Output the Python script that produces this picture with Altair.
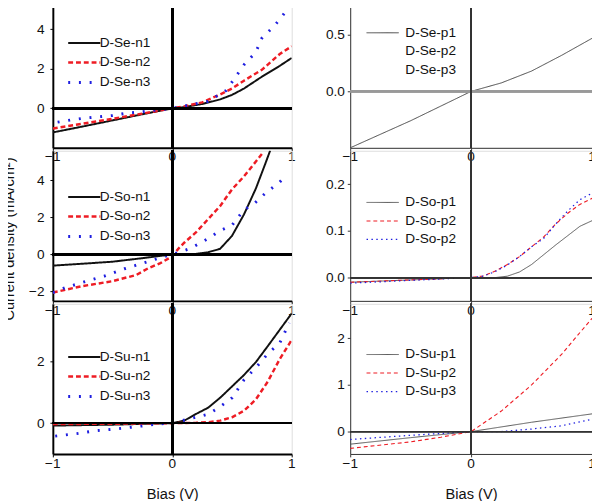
import altair as alt
import pandas as pd

FONT = "Liberation Sans"

# ---------------- data ----------------
# D-Se (n-type)
se_n1_x = [-1, -0.75, -0.5, -0.25, 0, 0.1, 0.25, 0.4, 0.5, 0.6, 0.75, 0.9, 1.0]
se_n1_y = [-1.22, -0.92, -0.61, -0.3, 0, 0.06, 0.22, 0.45, 0.68, 1.0, 1.6, 2.15, 2.55]
se_n2_x = [-1, -0.75, -0.5, -0.25, 0, 0.1, 0.25, 0.4, 0.5, 0.6, 0.75, 0.9, 1.0]
se_n2_y = [-1.02, -0.78, -0.53, -0.27, 0, 0.1, 0.3, 0.7, 1.0, 1.4, 1.95, 2.75, 3.14]
se_n3_x = [-0.96, -0.88, -0.74, -0.5, -0.35, -0.28, -0.18, 0, 0.3, 0.45, 0.52, 0.6, 0.7, 0.75, 0.85, 0.9, 0.95]
se_n3_y = [-0.7, -0.62, -0.5, -0.36, -0.22, -0.2, -0.12, 0, 0.35, 0.9, 1.5, 2.2, 2.85, 3.55, 4.15, 4.5, 4.9]

# D-So (n-type)
so_n1_x = [-1, -0.75, -0.5, -0.25, 0, 0.2, 0.3, 0.4, 0.5, 0.6, 0.7, 0.78, 0.82]
so_n1_y = [-0.6, -0.5, -0.39, -0.2, 0, 0.03, 0.12, 0.3, 1.0, 2.15, 3.55, 4.9, 5.6]
so_n2_x = [-1, -0.75, -0.5, -0.3, -0.2, -0.1, 0, 0.05, 0.1, 0.2, 0.3, 0.4, 0.5, 0.6, 0.7, 0.75]
so_n2_y = [-2.05, -1.7, -1.44, -1.1, -0.74, -0.47, -0.1, 0.3, 0.63, 1.2, 1.9, 2.6, 3.5, 4.2, 5.0, 5.4]
so_n3_x = [-1, -0.9, -0.75, -0.57, -0.4, -0.2, -0.1, 0, 0.15, 0.3, 0.4, 0.5, 0.6, 0.68, 0.78, 0.9, 0.95]
so_n3_y = [-2.05, -1.8, -1.5, -1.17, -0.77, -0.38, -0.17, 0, 0.32, 0.85, 1.28, 1.57, 2.4, 2.7, 3.3, 3.9, 4.25]

# D-Su (n-type)
su_n1_x = [-1, -0.5, 0, 0.1, 0.2, 0.3, 0.4, 0.5, 0.6, 0.7, 0.8, 0.9, 1.0]
su_n1_y = [-0.08, -0.05, 0, 0.08, 0.3, 0.5, 0.82, 1.19, 1.56, 1.98, 2.5, 3.03, 3.56]
su_n2_x = [-1, -0.5, 0, 0.2, 0.3, 0.4, 0.5, 0.6, 0.7, 0.8, 0.9, 1.0]
su_n2_y = [-0.03, -0.02, 0, 0.01, 0.03, 0.08, 0.19, 0.4, 0.77, 1.35, 2.08, 2.7]
su_n3_x = [-0.98, -0.8, -0.65, -0.45, -0.27, -0.1, 0, 0.3, 0.4, 0.5, 0.6, 0.7, 0.8, 0.9, 0.98]
su_n3_y = [-0.42, -0.34, -0.25, -0.18, -0.1, -0.02, 0, 0.29, 0.53, 0.82, 1.4, 1.8, 2.25, 2.6, 3.25]

# D-Se (p-type)
se_p1_x = [-1, -0.75, -0.5, -0.25, 0, 0.25, 0.5, 0.75, 1.0]
se_p1_y = [-0.5, -0.38, -0.26, -0.13, 0, 0.075, 0.18, 0.32, 0.47]

# D-So (p-type)
so_p_x = [-1, -0.5, 0, 0.1, 0.2, 0.3, 0.4, 0.5, 0.6, 0.7, 0.8, 0.9, 1.0]
so_p1_y = [-0.01, -0.005, 0, 0, 0, 0.003, 0.012, 0.028, 0.049, 0.07, 0.09, 0.11, 0.122]
so_p2_y = [-0.01, -0.005, 0, 0.0035, 0.014, 0.028, 0.045, 0.066, 0.087, 0.115, 0.138, 0.157, 0.17]
so_p2b_y = [-0.012, -0.006, 0, 0.003, 0.013, 0.027, 0.045, 0.066, 0.084, 0.115, 0.143, 0.167, 0.181]

# D-Su (p-type)
su_p1_x = [-1, -0.5, 0, 0.5, 1.0]
su_p1_y = [-0.27, -0.13, 0, 0.2, 0.38]
su_p2_x = [-1, -0.5, -0.25, 0, 0.25, 0.5, 0.75, 1.0]
su_p2_y = [-0.36, -0.22, -0.12, 0, 0.44, 1.0, 1.66, 2.43]
su_p3_x = [-1, -0.5, 0, 0.25, 0.5, 0.75, 1.0]
su_p3_y = [-0.17, -0.08, 0, 0.0, 0.055, 0.125, 0.265]

X_LABELS = [-1, 0, 1]

RED = "#ee1c24"
BLUE = "#1f1fe0"
BLACK = "#111111"


def frame(pairs):
    rows = []
    for key, xs, ys in pairs:
        for x, y in zip(xs, ys):
            rows.append({"key": key, "x": x, "y": y})
    return pd.DataFrame(rows)


def panel(pairs, keys, colors, dashes, widths, ydom, ylabels, yfmt,
          leg_x, leg_y, side, width, height, xtitle=None, ytitle=None,
          ytitle_y=None, zero_h_color=None, zero_h_width=None):
    left = side == "left"
    axis_color = "#000000" if left else "#333333"
    axis_w = 2 if left else 1
    zc_h = zero_h_color or axis_color
    zw_h = zero_h_width or axis_w

    xscale = alt.Scale(domain=[-1, 1], nice=False, zero=False)
    yscale = alt.Scale(domain=ydom, nice=False, zero=False)

    yaxis_kw = dict(
        values=ylabels, labelOverlap=False,
        grid=False, domainColor=axis_color, domainWidth=axis_w,
        tickColor=axis_color, tickWidth=1, tickSize=3,
        labelFont=FONT, labelFontSize=14, labelColor="#111",
        labelPadding=6 if left else 3,
        title=ytitle if ytitle else None,
        format=yfmt,
    )
    if ytitle:
        yaxis_kw.update(titleFont=FONT, titleFontSize=15, titleFontWeight="normal",
                        titleColor="#111", titlePadding=12)
        if ytitle_y is not None:
            yaxis_kw["titleY"] = ytitle_y

    xaxis = alt.Axis(
        values=X_LABELS, labels=False,
        grid=False, domainColor=axis_color, domainWidth=axis_w,
        tickColor=axis_color, tickWidth=1, tickSize=3,
        title=xtitle if xtitle else None,
        titleFont=FONT, titleFontSize=15, titleFontWeight="normal",
        titleColor="#111", titlePadding=30,
    )

    legend = alt.Legend(
        orient="none", legendX=leg_x, legendY=leg_y, title=None,
        symbolType="M-1,0H3", symbolSize=16.5 * 16.5,
        labelFont=FONT, labelFontSize=14, labelColor="#111",
        labelOffset=14 if left else 22.5, rowPadding=3,
        labelExpr="replace(datum.label, '#2', '')",
    )

    df = frame(pairs)
    lines = alt.Chart(df).mark_line(clip=True).encode(
        x=alt.X("x:Q", scale=xscale, axis=xaxis),
        y=alt.Y("y:Q", scale=yscale, axis=alt.Axis(**yaxis_kw)),
        color=alt.Color("key:N", scale=alt.Scale(domain=keys, range=colors), legend=legend),
        strokeDash=alt.StrokeDash("key:N", scale=alt.Scale(domain=keys, range=dashes), legend=legend),
        strokeWidth=alt.StrokeWidth("key:N", scale=alt.Scale(domain=keys, range=widths), legend=legend),
        detail="key:N",
    )
    hzero = alt.Chart(df).mark_rule(color=zc_h, strokeWidth=zw_h).encode(y=alt.datum(0))
    vzero = alt.Chart(df).mark_rule(color=axis_color, strokeWidth=axis_w).encode(x=alt.datum(0))
    # x tick labels (-1, 0, 1) placed through the x scale just below the axis
    xlab = alt.Chart(pd.DataFrame({"x": X_LABELS})).mark_text(
        font=FONT, fontSize=14, color="#111", align="center", baseline="middle"
    ).encode(
        x=alt.X("x:Q"),
        y=alt.value(height + 10),
        text=alt.Text("x:Q", format="d"),
    )
    return alt.layer(lines, hzero, vzero, xlab).properties(width=width, height=height)


LW, RW, H = 245, 248, 154

p_se_n = panel([("D-Se-n1", se_n1_x, se_n1_y), ("D-Se-n2", se_n2_x, se_n2_y), ("D-Se-n3", se_n3_x, se_n3_y)],
               ["D-Se-n1", "D-Se-n2", "D-Se-n3"], [BLACK, RED, BLUE], [[1, 0], [5, 3], [2, 9]], [2, 3, 3],
               [-2, 5.6], [0, 2, 4], "d", 14, 37, "left", LW, H)
p_se_p = panel([("D-Se-p1", se_p1_x, se_p1_y)],
               ["D-Se-p1", "D-Se-p2", "D-Se-p3"], ["#444444", "transparent", "transparent"],
               [[1, 0], [1, 0], [1, 0]], [1, 1, 1],
               [-0.5, 0.83], [0, 0.5], ".1f", 16, 27, "right", RW, H,
               zero_h_color="#999999", zero_h_width=2)

p_so_n = panel([("D-So-n1", so_n1_x, so_n1_y), ("D-So-n2", so_n2_x, so_n2_y), ("D-So-n3", so_n3_x, so_n3_y)],
               ["D-So-n1", "D-So-n2", "D-So-n3"], [BLACK, RED, BLUE], [[1, 0], [5, 3], [2, 9]], [2, 3, 3],
               [-2.5, 5.58], [-2, 0, 2, 4], "d", 14, 38, "left", LW, H,
               ytitle="Current density (mA/cm²)", ytitle_y=90)
p_so_p = panel([("D-So-p1", so_p_x, so_p1_y), ("D-So-p2", so_p_x, so_p2_y), ("D-So-p2#2", so_p_x, so_p2b_y)],
               ["D-So-p1", "D-So-p2", "D-So-p2#2"], ["#555555", RED, BLUE], [[1, 0], [4, 3], [1.5, 3.5]], [1, 1.3, 1.8],
               [-0.05, 0.272], [0, 0.1, 0.2], ".1f", 16, 44, "right", RW, H)

p_su_n = panel([("D-Su-n1", su_n1_x, su_n1_y), ("D-Su-n2", su_n2_x, su_n2_y), ("D-Su-n3", su_n3_x, su_n3_y)],
               ["D-Su-n1", "D-Su-n2", "D-Su-n3"], [BLACK, RED, BLUE], [[1, 0], [5, 3], [2, 9]], [2, 3, 3],
               [-1, 3.87], [0, 2], "d", 14, 45, "left", LW, H, xtitle="Bias (V)")
p_su_p = panel([("D-Su-p1", su_p1_x, su_p1_y), ("D-Su-p2", su_p2_x, su_p2_y), ("D-Su-p3", su_p3_x, su_p3_y)],
               ["D-Su-p1", "D-Su-p2", "D-Su-p3"], ["#555555", RED, BLUE], [[1, 0], [4, 3], [1.5, 3.5]], [1, 1.3, 1.8],
               [-0.48, 2.74], [0, 1, 2], "d", 16, 43, "right", RW, H, xtitle="Bias (V)")

chart = alt.concat(
    p_se_n, p_se_p, p_so_n, p_so_p, p_su_n, p_su_p,
    columns=2, spacing={"row": 3, "column": 60}, bounds="flush",
).resolve_scale(
    x="independent", y="independent",
    color="independent", strokeDash="independent", strokeWidth="independent",
).properties(
    padding={"top": -19, "left": -7, "right": -5, "bottom": 0}
).configure_view(stroke=None).configure_axis(labelOverlap=False).configure(
    font=FONT, background="white")

chart.save("out.html", embed_options={"renderer": "svg", "actions": False})
